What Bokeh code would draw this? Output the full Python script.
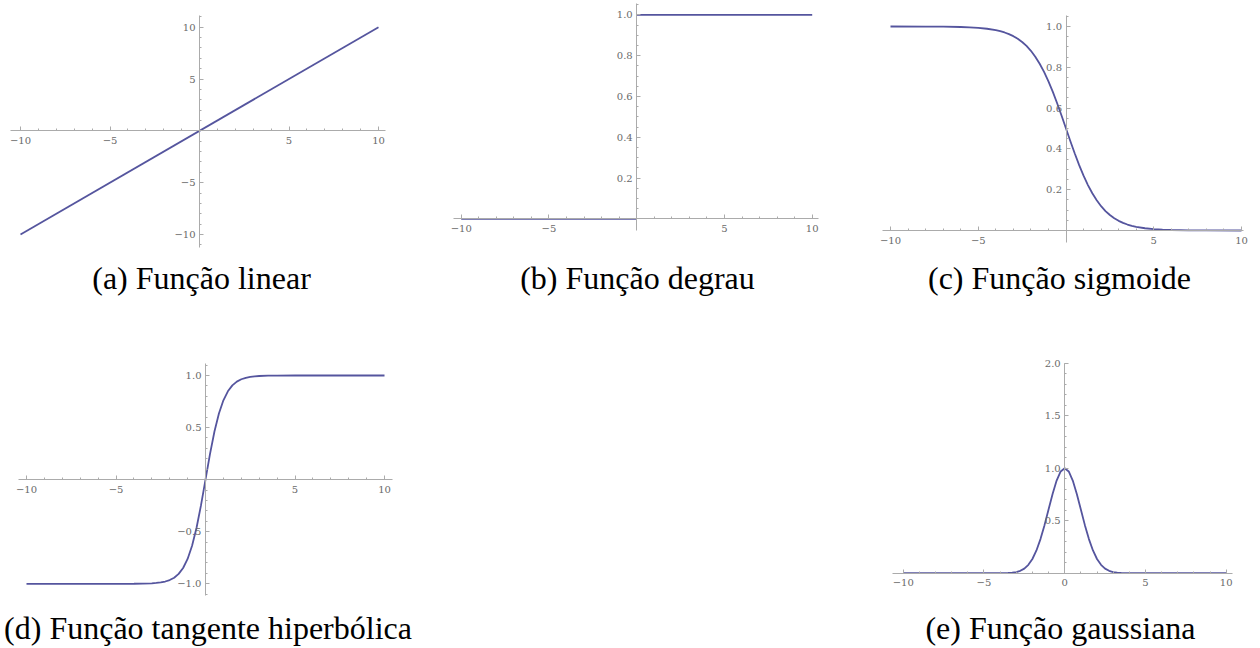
from bokeh.plotting import figure
from bokeh.models import Range1d, FixedTicker, Label, Spacer
from bokeh.layouts import column, row
from bokeh.embed import file_html
from bokeh.resources import INLINE

# ---- curve samples -------------------------------------------------------
linear_x = [-10, 10]
linear_y = [-10, 10]

step_xs = [[-10, 0], [0, 10]]
step_ys = [[0, 0], [1, 1]]

sigmoid_x = [-10, -8, -7, -6, -5.5, -5, -4.5, -4, -3.75, -3.5, -3.25, -3, -2.75, -2.5,
             -2.25, -2, -1.75, -1.5, -1.25, -1, -0.75, -0.5, -0.25, 0, 0.25, 0.5, 0.75,
             1, 1.25, 1.5, 1.75, 2, 2.25, 2.5, 2.75, 3, 3.25, 3.5, 3.75, 4, 4.5, 5, 5.5,
             6, 7, 8, 10]
sigmoid_y = [1.0, 0.9997, 0.9991, 0.9975, 0.9959, 0.9933, 0.9890, 0.9820, 0.9771,
             0.9707, 0.9627, 0.9526, 0.9399, 0.9241, 0.9047, 0.8808, 0.8520, 0.8176,
             0.7773, 0.7311, 0.6792, 0.6225, 0.5622, 0.5, 0.4378, 0.3775, 0.3208,
             0.2689, 0.2227, 0.1824, 0.1480, 0.1192, 0.0953, 0.0759, 0.0601, 0.0474,
             0.0373, 0.0293, 0.0229, 0.0180, 0.0110, 0.0067, 0.0041, 0.0025, 0.0009,
             0.0003, 0.0]

tanh_x = [-10, -6, -5, -4, -3.5, -3, -2.75, -2.5, -2.25, -2, -1.75, -1.5, -1.25, -1,
          -0.75, -0.5, -0.25, 0, 0.25, 0.5, 0.75, 1, 1.25, 1.5, 1.75, 2, 2.25, 2.5,
          2.75, 3, 3.5, 4, 5, 6, 10]
tanh_y = [-1.0, -1.0, -0.9999, -0.9993, -0.9982, -0.9951, -0.9919, -0.9866, -0.9780,
          -0.9640, -0.9414, -0.9051, -0.8483, -0.7616, -0.6351, -0.4621, -0.2449, 0.0,
          0.2449, 0.4621, 0.6351, 0.7616, 0.8483, 0.9051, 0.9414, 0.9640, 0.9780,
          0.9866, 0.9919, 0.9951, 0.9982, 0.9993, 0.9999, 1.0, 1.0]

gauss_x = [-10, -5, -4.5, -4, -3.5, -3.25, -3, -2.75, -2.5, -2.25, -2, -1.75, -1.5,
           -1.25, -1, -0.75, -0.5, -0.25, 0, 0.25, 0.5, 0.75, 1, 1.25, 1.5, 1.75, 2,
           2.25, 2.5, 2.75, 3, 3.25, 3.5, 4, 4.5, 5, 10]
gauss_y = [0.0, 0.0, 0.0000, 0.0003, 0.0022, 0.0051, 0.0111, 0.0228, 0.0439, 0.0796,
           0.1353, 0.2163, 0.3247, 0.4578, 0.6065, 0.7548, 0.8825, 0.9692, 1.0, 0.9692,
           0.8825, 0.7548, 0.6065, 0.4578, 0.3247, 0.2163, 0.1353, 0.0796, 0.0439,
           0.0228, 0.0111, 0.0051, 0.0022, 0.0003, 0.0000, 0.0, 0.0]

# ---- tick positions and labels -------------------------------------------
x_major = [-10, -5, 5, 10]
x_major_e = [-10, -5, 0, 5, 10]
x_minor = list(range(-10, 11))
lin_y_major = [-10, -5, 5, 10]
lin_y_minor = list(range(-11, 12))
unit_y_major = [0.2, 0.4, 0.6, 0.8, 1.0]
unit_y_minor = [round(0.05 * i, 2) for i in range(0, 22)]
tanh_y_major = [-1.0, -0.5, 0.5, 1.0]
tanh_y_minor = [round(0.1 * i, 1) for i in range(-11, 12)]
gauss_y_major = [0.5, 1.0, 1.5, 2.0]
gauss_y_minor = [round(0.1 * i, 1) for i in range(0, 21)]

captions = ["(a) Função linear", "(b) Função degrau", "(c) Função sigmoide",
            "(d) Função tangente hiperbólica", "(e) Função gaussiana"]

CURVE = "#55559e"
AXIS = "#ababab"
LABEL = "#6a6a6a"
W, H = 420, 324


def fmt(v):
    s = str(abs(v)) if isinstance(v, int) else f"{abs(v):.1f}"
    return ("\u2212" + s) if v < 0 else s


def pixel_map(v0, p0, v1, p1):
    k = (v1 - v0) / (p1 - p0)
    return lambda px: v0 + (px - p0) * k


def panel(xmap, ymap, xspan, yspan, xticks, yticks, caption, cap_x, cap_base):
    fx = pixel_map(*xmap)
    fy = pixel_map(*ymap)
    p = figure(width=W, height=H, output_backend="svg", toolbar_location=None,
               x_range=Range1d(fx(0), fx(W)), y_range=Range1d(fy(H), fy(0)),
               min_border=0, outline_line_color=None,
               background_fill_color="white", border_fill_color="white")
    p.grid.visible = False
    for ax, (major, minor), span, f, standoff in (
            (p.xaxis[0], xticks, xspan, fx, 6),
            (p.yaxis[0], yticks, yspan, fy, 4)):
        ax.fixed_location = 0
        ax.ticker = FixedTicker(ticks=major, minor_ticks=minor)
        ax.major_label_overrides = {v: fmt(v) for v in major}
        lo, hi = sorted((f(span[0]), f(span[1])))
        ax.bounds = (lo, hi)
        ax.axis_line_color = AXIS
        ax.axis_line_width = 1
        ax.major_tick_line_color = AXIS
        ax.minor_tick_line_color = AXIS
        ax.major_tick_in = 4
        ax.major_tick_out = 0
        ax.minor_tick_in = 2
        ax.minor_tick_out = 0
        ax.major_label_text_font = "DejaVu Serif"
        ax.major_label_text_font_size = "10px"
        ax.major_label_text_color = LABEL
        ax.major_label_standoff = standoff
    p.add_layout(Label(x=fx(cap_x), y=fy(cap_base), text=caption,
                       text_font="Liberation Serif", text_font_size="32px",
                       text_color="black", text_align="center",
                       text_baseline="alphabetic"))
    return p


pa = panel((-10, 20, 10, 378), (10, 26.7, -10, 234), (10, 385), (15, 247),
           (x_major, x_minor), (lin_y_major, lin_y_minor), captions[0], 201, 277)
pa.line(linear_x, linear_y, line_color=CURVE, line_width=1.8)

pb = panel((-10, 40.7, 10, 391.7), (1, 14.3, 0, 218.3), (33, 398), (3, 230),
           (x_major, x_minor), (unit_y_major, unit_y_minor), captions[1], 217, 277)
pb.multi_line(step_xs, step_ys, line_color=CURVE, line_width=1.8)

pc = panel((-10, 50, 10, 401), (1, 26, 0, 230), (42, 403), (15, 242),
           (x_major, x_minor), (unit_y_major, unit_y_minor), captions[2], 219, 277)
pc.line(sigmoid_x, sigmoid_y, line_color=CURVE, line_width=1.8)

pd = panel((-10, 26, 10, 384), (1, 51, -1, 259.3), (18, 392), (39, 271),
           (x_major, x_minor), (tanh_y_major, tanh_y_minor), captions[3], 207.5, 303)
pd.line(tanh_x, tanh_y, line_color=CURVE, line_width=1.8)

pe = panel((-10, 62.7, 10, 385.7), (2, 38.7, 0, 248.7), (51.7, 391.7), (38.7, 248.7),
           (x_major_e, x_minor), (gauss_y_major, gauss_y_minor), captions[4], 220, 303)
pe.line(gauss_x, gauss_y, line_color=CURVE, line_width=1.8)

layout = column(row(pa, pb, pc), row(pd, Spacer(width=W, height=H), pe))

open("out.html", "w").write(file_html(layout, INLINE))
